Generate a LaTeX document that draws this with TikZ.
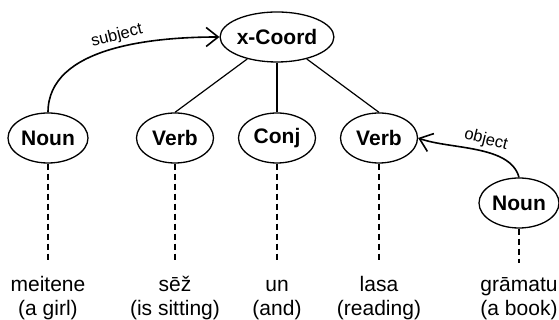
\documentclass[tikz,border=0pt]{standalone}
\usepackage{fontspec}
\setmainfont{Liberation Sans}
\usetikzlibrary{shapes.geometric,arrows.meta}
\begin{document}
\begin{tikzpicture}[x=1pt,y=1pt,
 cat/.style={ellipse,draw,line width=1.3pt,font=\fontsize{21}{24}\selectfont\bfseries,inner sep=0pt,minimum height=50,minimum width=77},
 word/.style={font=\fontsize{21}{24}\selectfont,inner sep=0pt,anchor=base},
 edge/.style={line width=1.2pt},
 dep/.style={line width=1.2pt,dash pattern=on 6pt off 4pt},
 rel/.style={line width=1.6pt,-{Straight Barb[length=12pt,width=19pt,line width=1.6pt]}},
 lab/.style={font=\fontsize{16.5}{18}\selectfont,sloped,above,inner sep=3pt}]
\useasboundingbox (0,0) rectangle (559,320);
% category nodes
\node[cat,minimum width=102] (xc) at (277,283) {x-Coord};
\node[cat,minimum width=80] (n1) at (48,182) {Noun};
\node[cat] (v1) at (175,182) {Verb};
\node[cat] (cj) at (277,182) {Conj};
\node[cat] (v2) at (379,182) {Verb};
\node[cat,minimum width=80] (n2) at (519,117) {Noun};
% words
\node[word] (w1) at (48,28) {meitene};
\node[word] (g1) at (48,4) {(a girl)};
\node[word] (w2) at (175,28) {sēž};
\node[word] (g2) at (175,4) {(is sitting)};
\node[word] (w3) at (277,28) {un};
\node[word] (g3) at (277,4) {(and)};
\node[word] (w4) at (379,28) {lasa};
\node[word] (g4) at (379,4) {(reading)};
\node[word] (w5) at (519,28) {grāmatu};
\node[word] (g5) at (519,4) {(a book)};
% dashed ends
\coordinate (d1) at (48,57);
\coordinate (d2) at (175,57);
\coordinate (d3) at (277,57);
\coordinate (d4) at (379,57);
\coordinate (d5) at (519,57);
% tree edges
\draw[edge] (xc) -- (v1.north);
\draw[edge] (xc.south) -- (cj.north);
\draw[edge] (xc) -- (v2.north);
% projection lines
\draw[dep] (n1.south) -- (d1);
\draw[dep] (v1.south) -- (d2);
\draw[dep] (cj.south) -- (d3);
\draw[dep] (v2.south) -- (d4);
\draw[dep] (n2.south) -- (d5);
% relations
\draw[rel] (n1.north) to[out=90,in=180,looseness=0.9] node[lab,pos=0.55] {subject} (xc.west);
\draw[rel] (n2.north) to[out=105,in=-20,looseness=0.8] node[lab,pos=0.45] {object} (v2.east);
\end{tikzpicture}
\end{document}
